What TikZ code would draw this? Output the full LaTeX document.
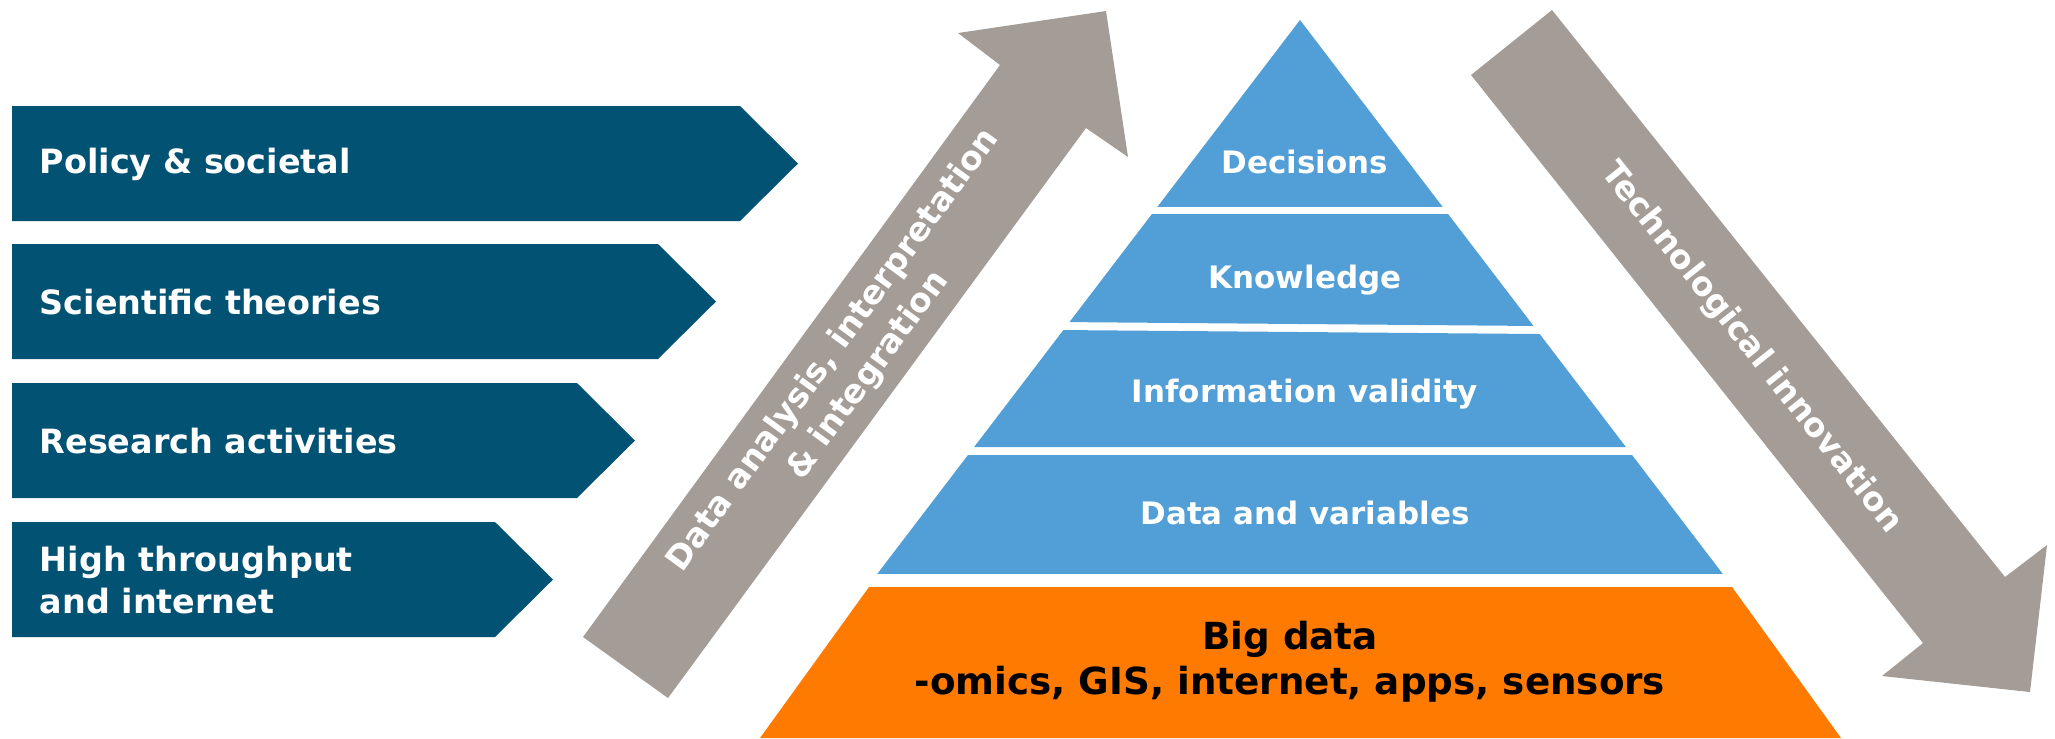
\documentclass[tikz,border=0pt]{standalone}
\usepackage{fontspec}
\setsansfont{DejaVu Sans}
\usepackage{tikz}
\definecolor{chevblue}{RGB}{2,82,115}
\definecolor{pyrblue}{RGB}{81,159,214}
\definecolor{bigorange}{RGB}{255,122,0}
\definecolor{arrowgray}{RGB}{164,156,150}
\tikzset{
chevtext/.style={
  anchor=west, align=left, text=white, inner sep=0pt,
  font=\sffamily\bfseries\fontsize{9.5}{11.7}\selectfont
},
layertext/.style={
  anchor=base, text=white, inner sep=0pt,
  font=\sffamily\bfseries\fontsize{8.8}{10.5}\selectfont
},
bigtext/.style={
  align=center, text=black, inner sep=0pt,
  font=\sffamily\bfseries\fontsize{10.6}{12.8}\selectfont
},
arrowtext/.style={
  align=center, text=white, inner sep=0pt,
  font=\sffamily\bfseries\fontsize{9.4}{12.2}\selectfont
},
}

\begin{document}
\begin{tikzpicture}[x=0.01cm,y=-0.01cm]
\useasboundingbox (0,0) rectangle (2055,738);
% the chevrons
\foreach \name/\ytop/\xc/\txt in {policy/106/740/{Policy \& societal},
  theories/244/658/{Scientific theories},
  research/383/577/{Research activities},
  throughput/522/495/{High throughput\\and internet}}
{
  \fill[chevblue] (12,\ytop) -- (\xc,\ytop) -- ({\xc+58},{\ytop+57.5})
    -- (\xc,{\ytop+115}) -- (12,{\ytop+115}) -- cycle;
  \node[chevtext] (\name) at (39,{\ytop+58}) {\txt};
}
% the pyramid
\begin{scope}
  \clip (1300,20) -- (1848,738) -- (752,738) -- cycle;
  \fill[pyrblue] (700,0) rectangle (1900,207);
  \fill[pyrblue] (700,214) -- (1900,214) -- (1900,329) -- (700,319) -- cycle;
  \fill[pyrblue] (700,327) -- (1900,337) -- (1900,447) -- (700,447) -- cycle;
  \fill[pyrblue] (700,455) rectangle (1900,574);
\end{scope}
\fill[bigorange] (869,587) -- (1732,587) -- (1841,738) -- (760,738) -- cycle;
\node[layertext] (decisions) at (1305,173) {Decisions};
\node[layertext] (knowledge) at (1305,288) {Knowledge};
\node[layertext] (validity) at (1305,402) {Information validity};
\node[layertext] (variables) at (1305,524) {Data and variables};
\node[bigtext] (bigdata) at (1290,662) {Big data\\-omics, GIS, internet, apps, sensors};
% the arrows
\fill[arrowgray] (583,637) -- (1000,65) -- (958,33) -- (1106,11)
  -- (1128,157) -- (1086,128) -- (668,698) -- cycle;
\node[arrowtext, rotate=53.9] (analysis) at (851,363)
  {Data analysis, interpretation\\\& integration};
\fill[arrowgray] (1471,75) -- (1552,10) -- (2005,577) -- (2047,545)
  -- (2030,692) -- (1882,676) -- (1923,643) -- cycle;
\node[arrowtext, rotate=-51.5] (innovation) at (1751,348) {Technological innovation};
\end{tikzpicture}
\end{document}
